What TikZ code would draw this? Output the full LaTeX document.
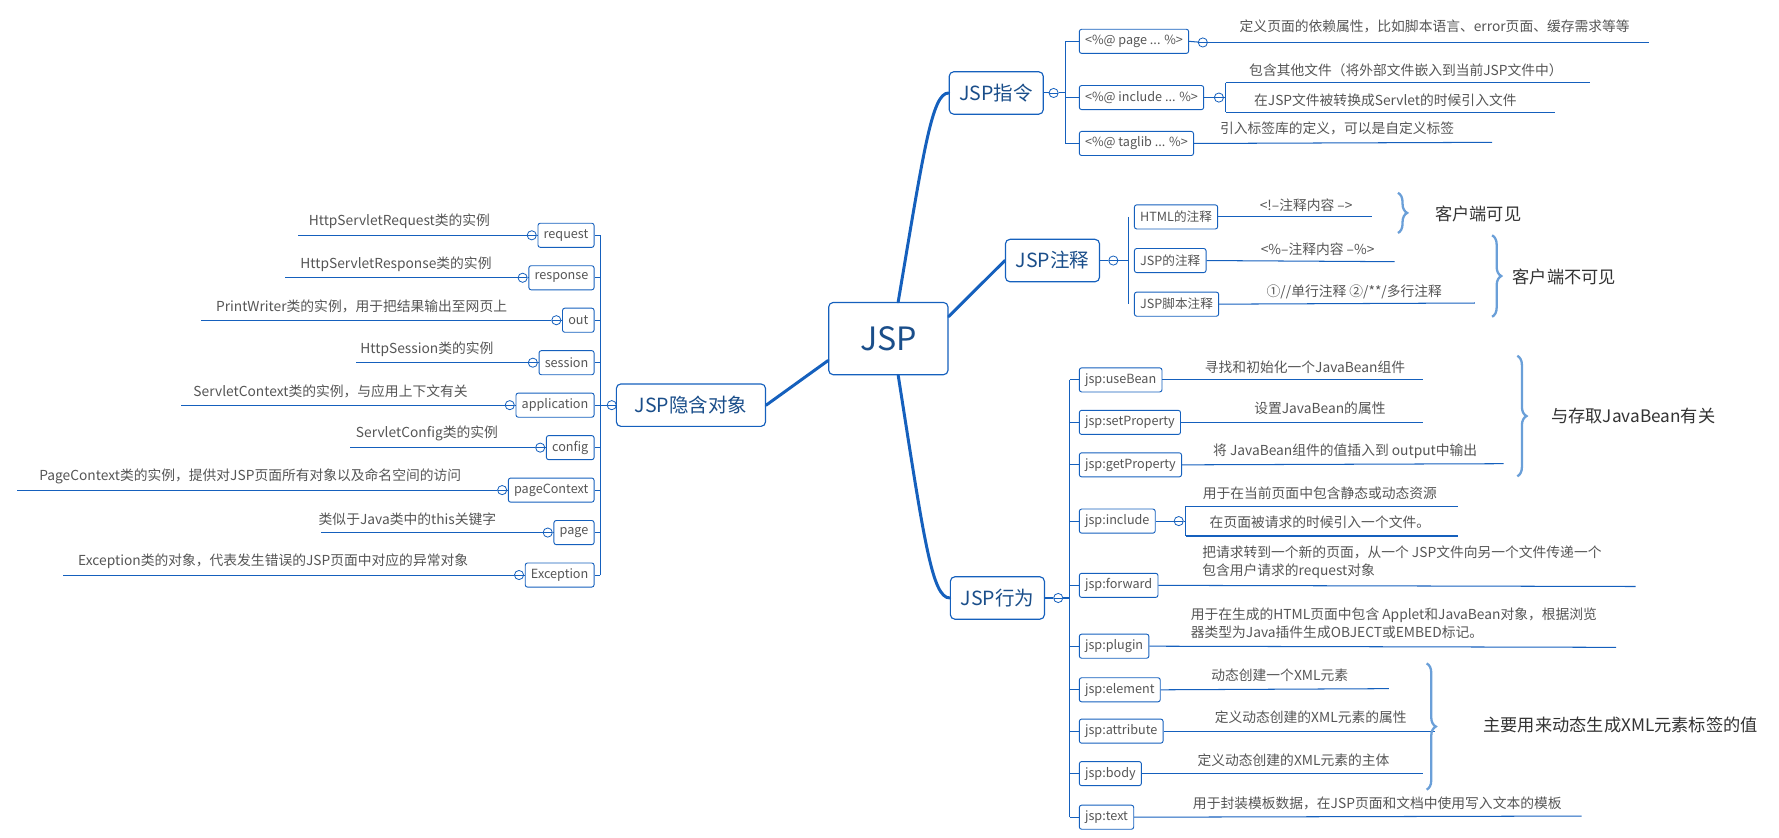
\documentclass[tikz,border=0pt]{standalone}
\usepackage{fontspec}
\setmainfont{Noto Sans CJK SC}
\usetikzlibrary{decorations.pathreplacing}
\definecolor{lb}{HTML}{1560BD}
\definecolor{br}{HTML}{6A9FD8}
\definecolor{tx}{HTML}{555555}
\definecolor{mt}{HTML}{1A4E8A}
\tikzset{
 nbox/.style={draw=lb,line width=0.8pt,rounded corners=2pt,fill=white,font=\fontsize{11}{12}\selectfont,text=tx,minimum height=21,inner xsep=5},
 mbox/.style={draw=lb,line width=1pt,rounded corners=4pt,fill=white,font=\fontsize{17}{18}\selectfont,text=mt,minimum height=37,inner xsep=9},
 leaf/.style={font=\fontsize{12}{16}\selectfont,text=tx,align=left},
 ln/.style={draw=lb,line width=0.9pt},
 main/.style={draw=lb,line width=2.6pt,line cap=round},
 knob/.style={circle,draw=lb,fill=white,inner sep=0,minimum size=8,line width=0.7pt,path picture={\draw[lb,line width=0.6pt](path picture bounding box.west)--(path picture bounding box.east);}},
 brc/.style={draw=br,line width=2pt,decorate,decoration={brace,amplitude=8}},
 big/.style={font=\fontsize{15}{16}\selectfont,text=black!80}
}
\begin{document}
\begin{tikzpicture}[x=1pt,y=-1pt]
\useasboundingbox (0,0) rectangle (1550,729.3);
% central
\node[mbox,font=\fontsize{28}{30}\selectfont,minimum width=104,minimum height=63] (jsp) at (774,295) {JSP};
\node[mbox,minimum width=80] (zl) at (868,81) {JSP指令};
\node[mbox,minimum width=82] (zs) at (917,227) {JSP注释};
\node[mbox,minimum width=82] (xw) at (869,521) {JSP行为};
\node[mbox,minimum width=130] (yh) at (602,353) {JSP隐含对象};
\draw[main] (jsp.75) .. controls (805,130) and (812,81) .. (zl.west);
\draw[main] (jsp.20) -- (zs.west);
\draw[main] (jsp.-75) .. controls (805,470) and (812,521) .. (xw.west);
\draw[main] (jsp.200) -- (yh.east);

% ---------- JSP指令
\node[knob] (k1) at (918,81) {};
\draw[ln] (zl.east)--(k1); \draw[ln] (k1)--(928,81);
\draw[ln] (928,36)--(928,125);
\node[nbox,anchor=west] (p1) at (940,36) {<\%@ page ... \%>};
\node[nbox,anchor=west] (p2) at (940,85) {<\%@ include ... \%>};
\node[nbox,anchor=west] (p3) at (940,125) {<\%@ taglib ... \%>};
\foreach \n/\y in {p1/36,p2/85,p3/125}{\draw[ln] (928,\y)--(\n.west);}
\node[knob] (kp1) at (1048,37) {}; \draw[ln] (p1.east)--(kp1); \draw[ln] (kp1)--(1437,37);
\node[leaf] (l1) at (1250,23) {定义页面的依赖属性，比如脚本语言、error页面、缓存需求等等};
\node[knob] (kp2) at (1062,85) {}; \draw[ln] (p2.east)--(kp2);
\draw[ln] (kp2)--(1068,85) (1068,72)--(1068,98);
\draw[ln] (1068,72)--(1385,72); \draw[ln] (1068,98)--(1355,98);
\node[leaf] (l2) at (1225,61) {包含其他文件（将外部文件嵌入到当前JSP文件中）};
\node[leaf] (l3) at (1207,87) {在JSP文件被转换成Servlet的时候引入文件};
\draw[ln] (p3.east)--(1300,124);
\node[leaf] (l4) at (1165,112) {引入标签库的定义，可以是自定义标签};

% ---------- JSP注释
\node[knob] (k2) at (970,227) {};
\draw[ln] (zs.east)--(k2); \draw[ln] (k2)--(983,227);
\draw[ln] (983,189)--(983,265);
\node[nbox,anchor=west] (c1) at (988,189) {HTML的注释};
\node[nbox,anchor=west] (c2) at (988,227) {JSP的注释};
\node[nbox,anchor=west] (c3) at (988,265) {JSP脚本注释};
\draw[ln] (c1.east)--(1195,189); \node[leaf] at (1138,179) {<!--注释内容 -->};
\draw[ln] (c2.east)--(1215,228); \node[leaf] at (1148,217) {<\%--注释内容 --\%>};
\draw[ln] (c3.east)--(1285,264); \node[leaf] at (1180,254) {①//单行注释 ②/**/多行注释};
\draw[brc] (1218,168)--(1218,203);
\node[big] at (1288,186) {客户端可见};
\draw[brc] (1300,205)--(1300,276);
\node[big] at (1363,241) {客户端不可见};

% ---------- JSP行为
\node[knob] (k3) at (922,521) {};
\draw[ln] (xw.east)--(k3); \draw[ln] (k3)--(932,521);
\draw[ln] (932,331)--(932,712);
\foreach \n/\y/\t in {b1/331/jsp:useBean,b2/368/jsp:setProperty,b3/405/jsp:getProperty,b4/454/jsp:include,b5/510/jsp:forward,b6/563/jsp:plugin,b7/601/jsp:element,b8/637/jsp:attribute,b9/674/jsp:body,b10/712/jsp:text}{
 \node[nbox,anchor=west] (\n) at (940,\y) {\t};
 \draw[ln] (932,\y)--(\n.west);}
\draw[ln] (b1.east)--(1240,331); \node[leaf] at (1137,320) {寻找和初始化一个JavaBean组件};
\draw[ln] (b2.east)--(1240,368); \node[leaf] at (1150,356) {设置JavaBean的属性};
\draw[ln] (b3.east)--(1310,404); \node[leaf] at (1172,393) {将 JavaBean组件的值插入到 output中输出};
\node[knob] (kb4) at (1027,454) {}; \draw[ln] (b4.east)--(kb4); \draw[ln] (kb4)--(1033,454) (1033,441)--(1033,467);
\draw[ln] (1033,441)--(1270,441); \draw[ln] (1033,467)--(1270,467);
\node[leaf] at (1150,430) {用于在当前页面中包含静态或动态资源};
\node[leaf] at (1150,455) {在页面被请求的时候引入一个文件。};
\draw[ln] (b5.east)--(1425,511);
\node[leaf,anchor=north west] at (1044,472) {把请求转到一个新的页面，从一个 JSP文件向另一个文件传递一个\\包含用户请求的request对象};
\draw[ln] (b6.east)--(1408,564);
\node[leaf,anchor=north west] at (1034,526) {用于在生成的HTML页面中包含 Applet和JavaBean对象，根据浏览\\器类型为Java插件生成OBJECT或EMBED标记。};
\draw[ln] (b7.east)--(1210,600); \node[leaf] at (1115,588) {动态创建一个XML元素};
\draw[ln] (b8.east)--(1250,637); \node[leaf] at (1142,625) {定义动态创建的XML元素的属性};
\draw[ln] (b9.east)--(1240,674); \node[leaf] at (1127,662) {定义动态创建的XML元素的主体};
\draw[ln] (b10.east)--(1378,711); \node[leaf] at (1200,700) {用于封装模板数据，在JSP页面和文档中使用写入文本的模板};
\draw[brc] (1322,310)--(1322,415);
\node[big] at (1423,362) {与存取JavaBean有关};
\draw[brc] (1243,578)--(1243,688);
\node[big] at (1412,632) {主要用来动态生成XML元素标签的值};

% ---------- JSP隐含对象
\node[knob] (k4) at (533,353) {};
\draw[ln] (yh.west)--(k4); \draw[ln] (k4)--(523,353);
\draw[ln] (523,205)--(523,501);
\foreach \n/\y/\t/\e/\lx/\l in {
 o1/205/request/260/348/{HttpServletRequest类的实例},
 o2/242/response/248/345/{HttpServletResponse类的实例},
 o3/279/out/175/315/{PrintWriter类的实例，用于把结果输出至网页上},
 o4/316/session/310/372/{HttpSession类的实例},
 o5/353/application/158/288/{ServletContext类的实例，与应用上下文有关},
 o6/390/config/305/372/{ServletConfig类的实例},
 o7/427/pageContext/15/218/{PageContext类的实例，提供对JSP页面所有对象以及命名空间的访问},
 o8/464/page/280/355/{类似于Java类中的this关键字},
 o9/501/Exception/55/238/{Exception类的对象，代表发生错误的JSP页面中对应的异常对象}}{
 \node[nbox,anchor=east] (\n) at (518,\y) {\t};
 \draw[ln] (523,\y)--(\n.east);
 \node[knob] (k\n) at ([xshift=-5]\n.west) {};
 \draw[ln] (\n.west)--(k\n); \draw[ln] (k\n)--(\e,\y);
 \node[leaf] at (\lx,\y-12) {\l};}
\end{tikzpicture}
\end{document}
